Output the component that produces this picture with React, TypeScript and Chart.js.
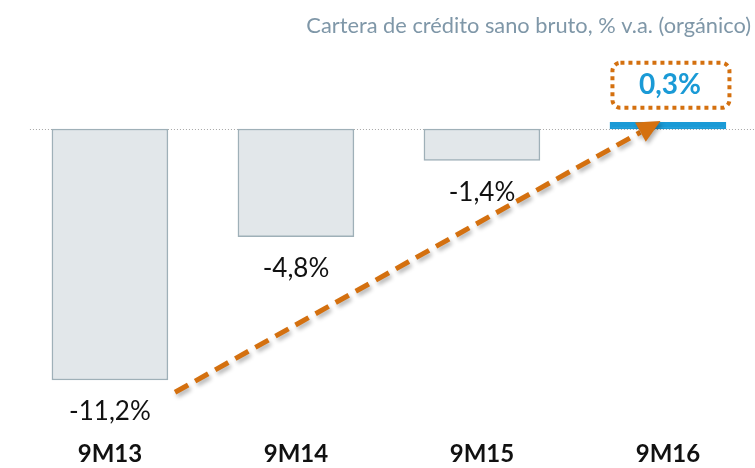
import React, { useEffect, useRef } from "react";
import { Chart, registerables } from "chart.js";

Chart.register(...registerables);

const categories = ["9M13", "9M14", "9M15", "9M16"];
const values = [-11.2, -4.8, -1.4, 0.3];
const valueLabels = ["-11,2%", "-4,8%", "-1,4%", "0,3%"];
const titleText = "Cartera de crédito sano bruto, % v.a. (orgánico)";

const FONT = "Lato, 'Open Sans', sans-serif";
const ORANGE = "#d4700f";
const BLUE = "#1a9ad6";

const overlay = {
  id: "overlay",
  beforeDatasetsDraw(chart: any) {
    const { ctx, scales } = chart;
    const y0 = Math.round(scales.y.getPixelForValue(0)) + 0.5;
    ctx.save();
    ctx.strokeStyle = "#a6a6a6";
    ctx.lineWidth = 1;
    ctx.setLineDash([1, 2]);
    ctx.beginPath();
    ctx.moveTo(scales.x.getPixelForValue(-0.43), y0);
    ctx.lineTo(chart.width, y0);
    ctx.stroke();
    ctx.restore();
  },
  afterDraw(chart: any) {
    const { ctx, scales } = chart;
    const xs = scales.x;
    const ys = scales.y;
    ctx.save();
    // title
    ctx.fillStyle = "#7f97a8";
    ctx.font = `21.8px ${FONT}`;
    ctx.textAlign = "right";
    ctx.textBaseline = "alphabetic";
    ctx.fillText(titleText, chart.width - 4, 33);

    // category labels
    ctx.fillStyle = "#111";
    ctx.font = `bold 24px ${FONT}`;
    ctx.textAlign = "center";
    ctx.textBaseline = "middle";
    categories.forEach((c, i) => {
      ctx.fillText(c, xs.getPixelForValue(i), 454);
    });

    // value labels
    values.forEach((v, i) => {
      const x = xs.getPixelForValue(i);
      if (v < 0) {
        ctx.fillStyle = "#111";
        ctx.font = `26px ${FONT}`;
        ctx.fillText(valueLabels[i], x, ys.getPixelForValue(v) + 32);
      }
    });

    // arrow
    const sx = xs.getPixelForValue(0.35);
    const sy = ys.getPixelForValue(-11.75);
    const ex = xs.getPixelForValue(2.96);
    const ey = ys.getPixelForValue(0.36);
    const ang = Math.atan2(ey - sy, ex - sx);
    const headLen = 23;
    const bx = ex - Math.cos(ang) * headLen;
    const by = ey - Math.sin(ang) * headLen;
    ctx.shadowColor = "rgba(0,0,0,0.3)";
    ctx.shadowBlur = 4;
    ctx.shadowOffsetX = 2;
    ctx.shadowOffsetY = 3;
    ctx.strokeStyle = ORANGE;
    ctx.lineWidth = 5;
    ctx.setLineDash([15, 8]);
    ctx.beginPath();
    ctx.moveTo(sx, sy);
    ctx.lineTo(bx, by);
    ctx.stroke();
    ctx.setLineDash([]);
    ctx.fillStyle = ORANGE;
    const hw = 11;
    ctx.beginPath();
    ctx.moveTo(ex, ey);
    ctx.lineTo(bx + Math.sin(ang) * hw, by - Math.cos(ang) * hw);
    ctx.lineTo(bx - Math.sin(ang) * hw, by + Math.cos(ang) * hw);
    ctx.closePath();
    ctx.fill();
    ctx.shadowColor = "transparent";

    // highlighted label box
    const lx = xs.getPixelForValue(3) + 3;
    const ly = ys.getPixelForValue(0.3) - 37;
    const bw = 117;
    const bh = 45;
    ctx.strokeStyle = ORANGE;
    ctx.lineWidth = 4;
    ctx.setLineDash([4, 4]);
    ctx.beginPath();
    (ctx as any).roundRect(lx - bw / 2, ly - bh / 2, bw, bh, 8);
    ctx.stroke();
    ctx.setLineDash([]);
    ctx.fillStyle = BLUE;
    ctx.font = `bold 28px ${FONT}`;
    ctx.textAlign = "center";
    ctx.textBaseline = "middle";
    ctx.fillText(valueLabels[3], lx - 1, ly);
    ctx.restore();
  },
};

export default function App() {
  const ref = useRef<HTMLCanvasElement>(null);
  useEffect(() => {
    if (!ref.current) return;
    const chart = new Chart(ref.current, {
      type: "bar",
      data: {
        datasets: [
          {
            data: values.map((v, i) => ({ x: i, y: v })),
            backgroundColor: values.map((v) => (v >= 0 ? BLUE : "#e2e7ea")),
            borderColor: values.map((v) => (v >= 0 ? BLUE : "#9fb0b8")),
            borderWidth: 1.5,
            borderSkipped: false,
            barThickness: 116,
          },
        ],
      },
      options: {
        responsive: false,
        animation: false,
        devicePixelRatio: 1,
        layout: { padding: 0 },
        plugins: { legend: { display: false }, tooltip: { enabled: false } },
        scales: {
          x: { type: "linear", display: false, offset: false, min: -0.591, max: 3.468 },
          y: { display: false, min: -15.13, max: 5.76 },
        },
      },
      plugins: [overlay],
    } as any);
    return () => chart.destroy();
  }, []);
  return (
    <div style={{ position: "fixed", left: 0, top: 0, width: 755, height: 468, background: "#fff" }}>
      <canvas ref={ref} width={755} height={468} />
    </div>
  );
}
